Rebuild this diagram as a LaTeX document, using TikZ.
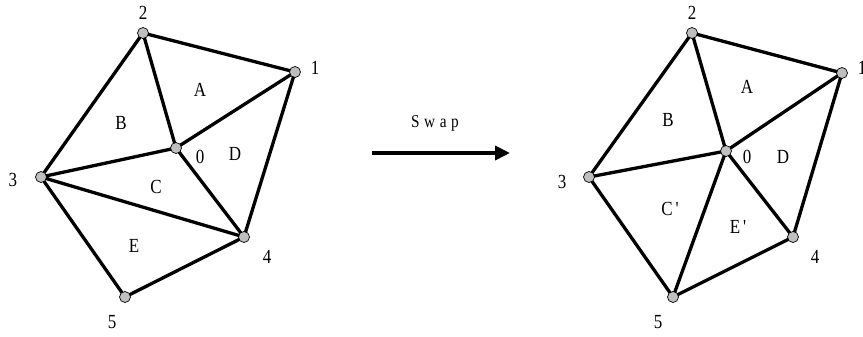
\documentclass[tikz,border=0pt]{standalone}
\usepackage{fontspec}
\setmainfont{Liberation Serif}
\usetikzlibrary{arrows.meta}
\begin{document}
\begin{tikzpicture}[x=1pt,y=-1pt,
  pt/.style={circle,draw=black,line width=0.7pt,fill=black!25,minimum size=11pt,inner sep=0pt},
  edge/.style={line width=3.3pt,line cap=round},
  lbl/.style={font=\fontsize{20}{22}\selectfont,inner sep=0pt,xscale=0.85}]
\useasboundingbox (0,0) rectangle (863,337);
% left mesh
\coordinate (L0) at (176,148);
\coordinate (L1) at (295,72);
\coordinate (L2) at (143,33);
\coordinate (L3) at (41,177);
\coordinate (L4) at (244,237);
\coordinate (L5) at (125,297);
\draw[edge] (L2)--(L1) (L1)--(L4) (L4)--(L5) (L5)--(L3) (L3)--(L2)
  (L0)--(L1) (L0)--(L2) (L0)--(L3) (L0)--(L4) (L3)--(L4);
\foreach \i in {0,...,5} \node[pt] (l\i) at (L\i) {};
\node[lbl] (tl2) at (143,13) {2};
\node[lbl] (tl1) at (315,68) {1};
\node[lbl] (tl0) at (200,157) {0};
\node[lbl] (tl3) at (13,180) {3};
\node[lbl] (tl4) at (267,257) {4};
\node[lbl] (tl5) at (112,322) {5};
\node[lbl] (tlA) at (200,90) {A};
\node[lbl] (tlB) at (121,123) {B};
\node[lbl] (tlC) at (156,187) {C};
\node[lbl] (tlD) at (235,154) {D};
\node[lbl] (tlE) at (134,246) {E};
% arrow
\coordinate (as) at (372,153);
\coordinate (ae) at (510,153);
\draw[line width=4pt,-{Triangle[length=15pt,width=14pt]}] (as)--(ae);
\node[lbl,font=\fontsize{18}{20}\selectfont\addfontfeature{LetterSpace=30}] (swap) at (435,123) {Swap};
% right mesh
\coordinate (R0) at (726,151);
\coordinate (R1) at (842,73);
\coordinate (R2) at (692,33);
\coordinate (R3) at (589,177);
\coordinate (R4) at (793,237);
\coordinate (R5) at (673,297);
\draw[edge] (R2)--(R1) (R1)--(R4) (R4)--(R5) (R5)--(R3) (R3)--(R2)
  (R0)--(R1) (R0)--(R2) (R0)--(R3) (R0)--(R4) (R0)--(R5);
\foreach \i in {0,...,5} \node[pt] (r\i) at (R\i) {};
\node[lbl] (tr2) at (692,13) {2};
\node[lbl] (tr1) at (862,68) {1};
\node[lbl] (tr0) at (747,157) {0};
\node[lbl] (tr3) at (562,182) {3};
\node[lbl] (tr4) at (815,257) {4};
\node[lbl] (tr5) at (658,322) {5};
\node[lbl] (trA) at (747,87) {A};
\node[lbl] (trB) at (668,120) {B};
\node[lbl] (trC) at (670,209) {C\,\textquotesingle};
\node[lbl] (trD) at (783,157) {D};
\node[lbl] (trE) at (738,227) {E\,\textquotesingle};
\end{tikzpicture}
\end{document}
